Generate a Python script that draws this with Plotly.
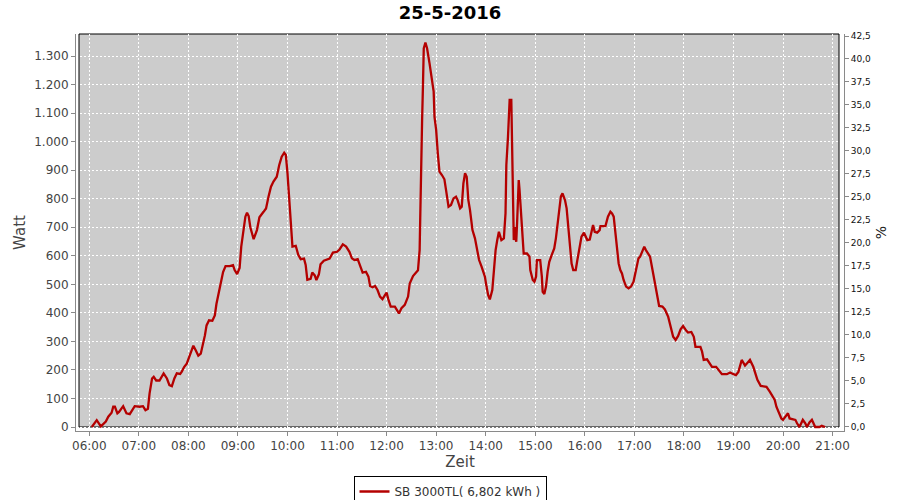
import plotly.graph_objects as go

DAY = "2016-05-25"

times = [
    "06:03", "06:09", "06:14", "06:20", "06:23", "06:27", "06:29", "06:31", "06:34", "06:36",
    "06:41", "06:45", "06:49", "06:55", "07:01", "07:05", "07:08", "07:11", "07:13", "07:16",
    "07:18", "07:21", "07:25", "07:28", "07:30", "07:34", "07:37", "07:40", "07:43", "07:46",
    "07:50", "07:52", "07:55", "07:58", "08:01", "08:04", "08:06", "08:09", "08:12", "08:15",
    "08:17", "08:20", "08:22", "08:25", "08:29", "08:32", "08:34", "08:37", "08:40", "08:42",
    "08:45", "08:50", "08:54", "08:56", "08:59", "09:02", "09:04", "09:07", "09:09", "09:11",
    "09:13", "09:15", "09:19", "09:23", "09:26", "09:31", "09:34", "09:37", "09:40", "09:43",
    "09:47", "09:50", "09:53", "09:56", "09:58", "10:00", "10:02", "10:04", "10:06", "10:10",
    "10:13", "10:16", "10:20", "10:22", "10:24", "10:28", "10:30", "10:33", "10:35", "10:38",
    "10:40", "10:44", "10:48", "10:51", "10:55", "11:00", "11:03", "11:07", "11:11", "11:15",
    "11:18", "11:21", "11:25", "11:28", "11:31", "11:35", "11:38", "11:40", "11:43", "11:46",
    "11:49", "11:52", "11:55", "11:58", "12:00", "12:02", "12:05", "12:10", "12:13", "12:15",
    "12:18", "12:22", "12:26", "12:28", "12:32", "12:36", "12:38", "12:40", "12:41", "12:42",
    "12:43", "12:44", "12:45", "12:47", "12:49", "12:52", "12:55", "12:57", "12:58", "13:00",
    "13:02", "13:04", "13:07", "13:10", "13:12", "13:15", "13:18", "13:21", "13:24", "13:26",
    "13:29", "13:31", "13:33", "13:35", "13:37", "13:39", "13:41", "13:44", "13:47", "13:50",
    "13:52", "13:55", "13:59", "14:01", "14:03", "14:05", "14:08", "14:10", "14:12", "14:14",
    "14:16", "14:19", "14:22", "14:24", "14:25", "14:27", "14:28", "14:29", "14:31", "14:32",
    "14:33", "14:34", "14:35", "14:37", "14:38", "14:39", "14:40", "14:41", "14:43", "14:45",
    "14:46", "14:50", "14:53", "14:54", "14:57", "14:59", "15:01", "15:02", "15:06", "15:08",
    "15:09", "15:11", "15:13", "15:15", "15:17", "15:20", "15:23", "15:25", "15:27", "15:29",
    "15:31", "15:33", "15:36", "15:38", "15:40", "15:42", "15:44", "15:46", "15:49", "15:51",
    "15:53", "15:56", "15:59", "16:01", "16:03", "16:06", "16:08", "16:10", "16:12", "16:15",
    "16:18", "16:19", "16:25", "16:28", "16:31", "16:33", "16:35", "16:37", "16:39", "16:41",
    "16:43", "16:45", "16:47", "16:50", "16:53", "16:56", "16:59", "17:01", "17:03", "17:05",
    "17:07", "17:09", "17:12", "17:14", "17:19", "17:22", "17:25", "17:28", "17:30", "17:34",
    "17:37", "17:41", "17:44", "17:47", "17:50", "17:53", "17:56", "17:59", "18:03", "18:05",
    "18:09", "18:12", "18:14", "18:20", "18:22", "18:24", "18:28", "18:30", "18:34", "18:39",
    "18:43", "18:46", "18:52", "18:56", "19:00", "19:03", "19:06", "19:08", "19:10", "19:14",
    "19:20", "19:24", "19:26", "19:29", "19:33", "19:37", "19:40", "19:44", "19:48", "19:50",
    "19:52", "19:55", "19:58", "20:00", "20:04", "20:06", "20:08", "20:15", "20:17", "20:20",
    "20:24", "20:27", "20:29", "20:32", "20:35", "20:37", "20:39", "20:44", "20:47", "20:51",
]

watts = [
    0, 24, 2, 19, 36, 50, 71, 71, 48, 53,
    73, 48, 45, 73, 71, 73, 59, 64, 118, 170,
    176, 163, 163, 176, 188, 170, 147, 143, 170, 188,
    186, 194, 211, 222, 246, 275, 285, 268, 250, 257,
    280, 321, 356, 374, 372, 391, 432, 473, 508, 543,
    564, 564, 567, 550, 536, 557, 632, 690, 737, 751,
    739, 700, 658, 690, 735, 754, 766, 807, 842, 860,
    877, 918, 947, 961, 953, 889, 801, 714, 632, 635,
    603, 588, 590, 568, 516, 519, 541, 531, 515, 535,
    570, 583, 588, 590, 611, 614, 622, 640, 632, 614,
    591, 585, 588, 562, 541, 544, 527, 494, 490, 494,
    480, 457, 448, 462, 471, 448, 422, 422, 404, 398,
    416, 428, 457, 503, 529, 541, 549, 620, 819, 947,
    1076, 1192, 1327, 1347, 1327, 1274, 1216, 1175, 1087, 1041,
    959, 895, 883, 868, 830, 772, 778, 801, 807, 795,
    766, 772, 854, 889, 877, 795, 760, 690, 661, 620,
    585, 562, 527, 492, 462, 447, 480, 550, 620, 655,
    684, 655, 661, 749, 918, 1017, 1099, 1146, 1146, 935,
    819, 655, 700, 649, 714, 830, 865, 830, 749, 660,
    608, 608, 597, 550, 515, 509, 527, 585, 585, 527,
    474, 466, 492, 544, 579, 603, 626, 661, 714, 778,
    807, 819, 795, 766, 702, 643, 573, 550, 550, 585,
    620, 667, 681, 667, 655, 657, 690, 708, 684, 681,
    690, 704, 704, 737, 754, 748, 737, 678, 632, 573,
    550, 538, 515, 492, 486, 492, 509, 533, 562, 591,
    597, 612, 632, 620, 597, 550, 503, 445, 424, 422,
    412, 386, 351, 316, 305, 319, 342, 354, 337, 331,
    333, 316, 281, 281, 264, 235, 237, 229, 211, 211,
    194, 185, 185, 191, 185, 182, 193, 217, 235, 215,
    235, 211, 194, 165, 144, 141, 141, 124, 106, 95,
    71, 48, 30, 25, 39, 48, 30, 25, 13, 0,
    25, 13, 0, 16, 25, 13, 0, 0, 4, 0,
]

series_name = "SB 3000TL( 6,802 kWh )"
title_text = "25-5-2016"
x_title = "Zeit"
y_title = "Watt"
y2_title = "%"

x_range = [DAY + " 05:43:54", DAY + " 21:13:52"]
y_range = [-14.0, 1377.1]
y2_range = [-0.49, 42.72]

FONT = "DejaVu Sans"
LINE_RED = "#b40000"
AXIS_GRAY = "#8a8a8a"

x_vals = [DAY + " " + t for t in times]

fig = go.Figure()
fig.add_trace(go.Scatter(
    x=x_vals, y=watts, mode="lines", name=series_name,
    line=dict(color=LINE_RED, width=2.3),
))
fig.add_trace(go.Scatter(
    x=[], y=[], yaxis="y2", mode="lines", showlegend=False, hoverinfo="skip",
))

# plot area: l=76, r=56, t=34, b=69 -> x 76..844, y 34..431
PW = 900 - 76 - 56
PH = 500 - 34 - 69
def px_x(p):
    return (p - 76) / PW
def px_y(p):
    return (431 - p) / PH

fig.update_layout(
    width=900, height=500,
    margin=dict(l=76, r=56, t=34, b=69, autoexpand=False),
    paper_bgcolor="white", plot_bgcolor="white",
    separators=",.",
    font=dict(family=FONT, size=12, color="#444444"),
    title=dict(text="<b>" + title_text + "</b>", x=0.5, xref="container", xanchor="center",
               y=1 - 13 / 500, yref="container", yanchor="middle",
               font=dict(family=FONT, size=18, color="#000000")),
    showlegend=True,
    legend=dict(xref="container", yref="container", x=0.5, xanchor="center",
                y=1 - 476 / 500, yanchor="top", orientation="h",
                bordercolor="#000000", borderwidth=1, bgcolor="white",
                font=dict(family=FONT, size=12, color="#333333"), itemwidth=30),
    xaxis=dict(
        type="date", range=x_range, tickformat="%H:%M",
        tick0=DAY + " 06:00", dtick=3600000,
        showgrid=True, gridcolor="white", griddash="2px,2px", gridwidth=1,
        showline=True, linecolor=AXIS_GRAY, linewidth=1,
        ticks="outside", ticklen=4, tickcolor=AXIS_GRAY,
        tickfont=dict(family=FONT, size=12, color="#444444"),
        title=dict(text=x_title, font=dict(family=FONT, size=15, color="#444444"), standoff=4),
        zeroline=False, automargin=False,
    ),
    yaxis=dict(
        range=y_range, tick0=0, dtick=100, tickformat=",d",
        showgrid=True, gridcolor="white", griddash="2px,2px", gridwidth=1,
        showline=True, linecolor=AXIS_GRAY, linewidth=1,
        ticks="outside", ticklen=4, tickcolor=AXIS_GRAY,
        tickfont=dict(family=FONT, size=12, color="#444444"),
        title=dict(text=y_title, font=dict(family=FONT, size=15, color="#444444"), standoff=4),
        zeroline=False, automargin=False,
    ),
    yaxis2=dict(
        overlaying="y", side="right", anchor="x",
        range=y2_range, tick0=0, dtick=2.5, tickformat=".1f",
        showgrid=False, zeroline=False,
        showline=True, linecolor=AXIS_GRAY, linewidth=1,
        ticks="outside", ticklen=4, tickcolor=AXIS_GRAY,
        tickfont=dict(family=FONT, size=9, color="#111111"),
        title=dict(text=y2_title, font=dict(family=FONT, size=14, color="#222222"), standoff=6),
        automargin=False,
    ),
    shapes=[
        dict(type="rect", xref="paper", yref="paper",
             x0=px_x(79), x1=px_x(839), y0=px_y(427), y1=px_y(34),
             fillcolor="#cccccc", line=dict(width=0), layer="below"),
        dict(type="rect", xref="paper", yref="paper",
             x0=px_x(79), x1=px_x(839), y0=px_y(427), y1=px_y(34),
             fillcolor="rgba(0,0,0,0)", line=dict(color="#000000", width=1), layer="between"),
    ],
)

fig.write_html("out.html", config={"displayModeBar": False},
               post_script="document.body.style.margin='0';")
